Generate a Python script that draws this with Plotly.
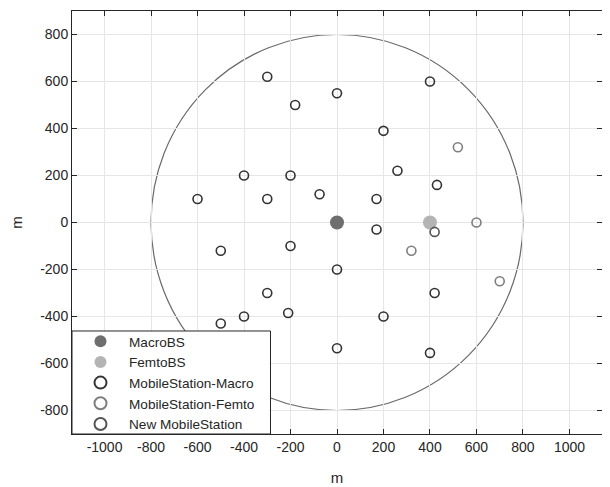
import plotly.graph_objects as go

# ---- data ----
macro_bs_x = [0]
macro_bs_y = [0]
femto_bs_x = [400]
femto_bs_y = [0]
cell_radius = 800

ms_macro_x = [-300, -180, 0, 400, 200, -400, -200, -600, -300, -75, 260, 430, 170, 170,
              -500, -200, 0, -300, -400, -210, -500, 200, 0, 400, 420]
ms_macro_y = [620, 500, 550, 600, 390, 200, 200, 100, 100, 120, 220, 160, 100, -30,
              -120, -100, -200, -300, -400, -385, -430, -400, -535, -555, -300]

ms_femto_x = [520, 600, 320, 700]
ms_femto_y = [320, 0, -120, -250]

new_ms_x = [420]
new_ms_y = [-40]

x_ticks = [-1000, -800, -600, -400, -200, 0, 200, 400, 600, 800, 1000]
y_ticks = [-800, -600, -400, -200, 0, 200, 400, 600, 800]

FONT = "Liberation Sans"
fig = go.Figure()

fig.add_shape(type="circle", xref="x", yref="y",
              x0=macro_bs_x[0] - cell_radius, x1=macro_bs_x[0] + cell_radius,
              y0=macro_bs_y[0] - cell_radius, y1=macro_bs_y[0] + cell_radius,
              line=dict(color="#6a6a6a", width=1.2), layer="below")

fig.add_trace(go.Scatter(x=macro_bs_x, y=macro_bs_y, mode="markers", name="MacroBS",
                         marker=dict(symbol="circle", size=14, color="#6e6e6e",
                                     line=dict(width=0))))
fig.add_trace(go.Scatter(x=femto_bs_x, y=femto_bs_y, mode="markers", name="FemtoBS",
                         marker=dict(symbol="circle", size=14, color="#b4b4b4",
                                     line=dict(width=0))))
fig.add_trace(go.Scatter(x=ms_macro_x, y=ms_macro_y, mode="markers",
                         name="MobileStation-Macro",
                         marker=dict(symbol="circle-open", size=9, color="#333333",
                                     line=dict(width=1.6, color="#333333"))))
fig.add_trace(go.Scatter(x=ms_femto_x, y=ms_femto_y, mode="markers",
                         name="MobileStation-Femto",
                         marker=dict(symbol="circle-open", size=9, color="#7e7e7e",
                                     line=dict(width=1.6, color="#7e7e7e"))))
fig.add_trace(go.Scatter(x=new_ms_x, y=new_ms_y, mode="markers",
                         name="New MobileStation",
                         marker=dict(symbol="circle-open", size=9, color="#545454",
                                     line=dict(width=1.6, color="#545454"))))

# legend box (drawn as a paper-space rectangle so its padding matches)
fig.add_shape(type="rect", xref="paper", yref="paper",
              x0=0, x1=0.3745, y0=0, y1=0.2435,
              line=dict(color="#262626", width=1), fillcolor="white", layer="above")

axis_common = dict(
    showline=True, linecolor="#262626", linewidth=1, mirror="ticks",
    ticks="inside", ticklen=5, tickcolor="#262626", tickwidth=1,
    showgrid=True, gridcolor="#e6e6e6", gridwidth=1, zeroline=False,
    automargin=False,
    tickfont=dict(family=FONT, size=14, color="#262626"),
    title_font=dict(family=FONT, size=15, color="#262626"),
)

fig.update_xaxes(range=[-1140, 1140], tickvals=x_ticks,
                 ticktext=[str(v) for v in x_ticks],
                 title_text="m", title_standoff=18, **axis_common)
fig.update_yaxes(range=[-900, 900], tickvals=y_ticks,
                 ticktext=[str(v) for v in y_ticks],
                 title_text="m", title_standoff=16, **axis_common)

fig.update_layout(
    width=602, height=479,
    margin=dict(l=64, r=8, t=3, b=53),
    paper_bgcolor="white", plot_bgcolor="white",
    font=dict(family=FONT, size=14, color="#262626"),
    showlegend=True,
    legend=dict(x=0, y=-0.014, xanchor="left", yanchor="bottom",
                bgcolor="rgba(0,0,0,0)", borderwidth=0,
                font=dict(family=FONT, size=13.6, color="#262626"),
                itemsizing="constant", tracegroupgap=0,
                itemwidth=47),
)

fig.write_html("out.html")
